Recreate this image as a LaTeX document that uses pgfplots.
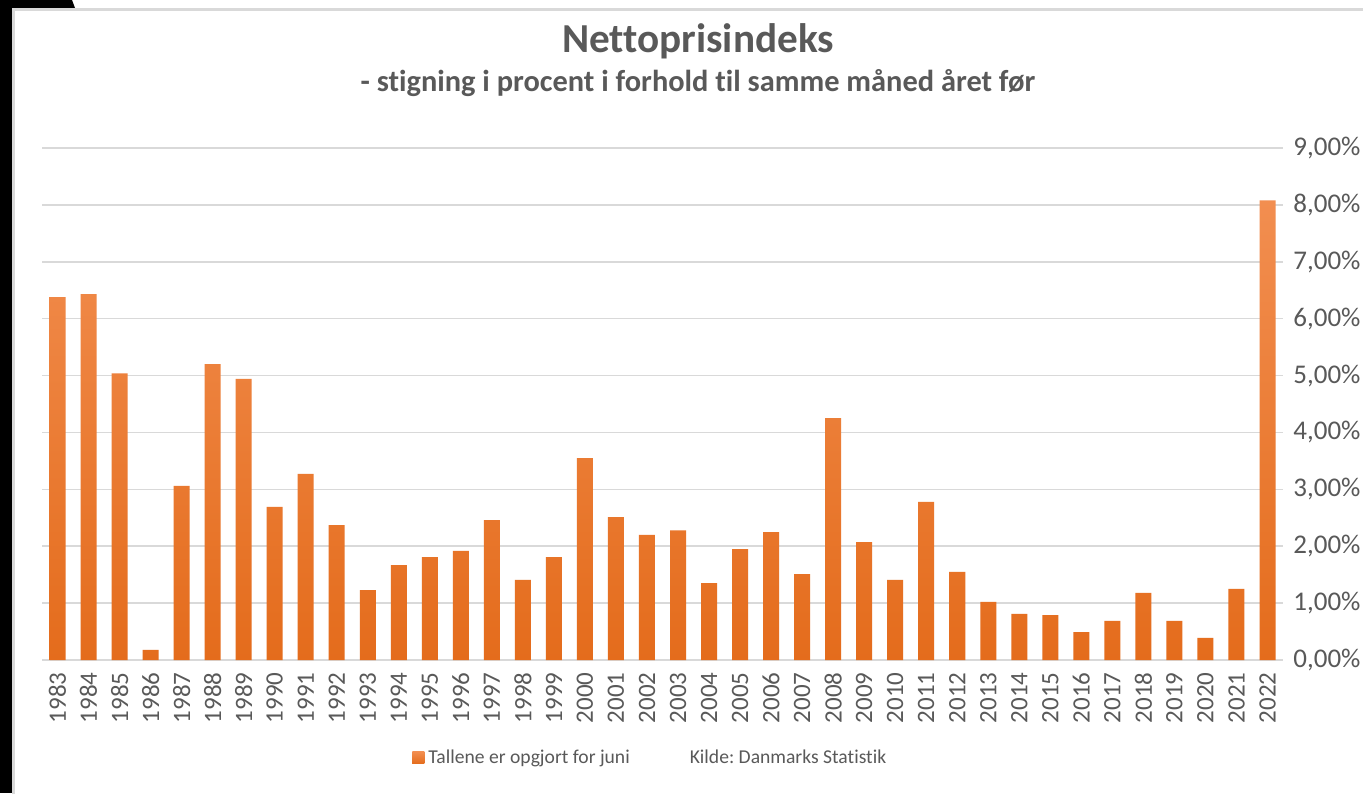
\documentclass[border=0pt]{standalone}
\usepackage{pgfplots}
\pgfplotsset{compat=1.18}
\usepackage{fontspec}
\setmainfont{Carlito}[Ligatures=NoCommon]
\definecolor{txt}{HTML}{595959}
\definecolor{gridc}{HTML}{D9D9D9}
\definecolor{bartop}{HTML}{F28E50}
\definecolor{barbot}{HTML}{E46C1C}
\definecolor{legsq}{HTML}{EE7A2C}
\begin{document}
\frenchspacing
\begin{tikzpicture}
\useasboundingbox (0,0) rectangle (681.5pt,396.5pt);
\fill[white] (0,0) rectangle (681.5pt,396.5pt);
\fill[black] (0,0) rectangle (6pt,396.5pt);
\fill[black] (0,396.5pt) -- (36pt,396.5pt) -- (37.5pt,392.5pt) -- (0,392.5pt) -- cycle;
\draw[gridc, line width=1.5pt] (6.75pt,-5pt) -- (6.75pt,391.75pt) -- (690pt,391.75pt);
\begin{axis}[
  at={(21pt,66.5pt)}, anchor=south west,
  scale only axis, width=620.5pt, height=256pt,
  xmin=1982.5, xmax=2022.5, ymin=0, ymax=9,
  xtick=data, ytick={0,1,...,9},
  axis line style={draw=none},
  major tick length=0pt,
  ymajorgrids, grid style={gridc, line width=0.75pt},
  yticklabel pos=right,
  /pgf/number format/assume math mode=true,
  yticklabel={\pgfmathprintnumber[fixed,fixed zerofill,precision=2,use comma]{\tick}\%},
  y tick label style={anchor=west, inner sep=0pt, xshift=5pt, font=\fontsize{13.5}{15}\selectfont, text=txt},
  x tick label style={rotate=90, anchor=east, inner sep=0pt, xshift=-6pt, font=\fontsize{12.5}{14}\selectfont, text=txt, /pgf/number format/1000 sep={}},
  legend style={at={(axis description cs:0.491,-0.191)}, anchor=center, draw=none, fill=none,
    font=\fontsize{9.8}{11}\selectfont, text=txt, legend columns=2,
    /tikz/every even column/.append style={column sep=26pt}},
]
\addplot[ybar, bar width=8pt, bar shift=0pt, draw=none, top color=bartop, bottom color=barbot,
  legend image code/.code={\fill[legsq] (0pt,-3pt) rectangle (6pt,3pt);}]
  table[row sep=\\] {
x y\\
1983 6.38\\
1984 6.43\\
1985 5.04\\
1986 0.18\\
1987 3.06\\
1988 5.20\\
1989 4.94\\
1990 2.69\\
1991 3.27\\
1992 2.37\\
1993 1.23\\
1994 1.67\\
1995 1.81\\
1996 1.92\\
1997 2.46\\
1998 1.41\\
1999 1.81\\
2000 3.55\\
2001 2.51\\
2002 2.20\\
2003 2.28\\
2004 1.35\\
2005 1.95\\
2006 2.25\\
2007 1.51\\
2008 4.25\\
2009 2.07\\
2010 1.41\\
2011 2.78\\
2012 1.55\\
2013 1.02\\
2014 0.81\\
2015 0.79\\
2016 0.49\\
2017 0.69\\
2018 1.18\\
2019 0.69\\
2020 0.39\\
2021 1.25\\
2022 8.08\\
};
\addlegendentry{Tallene er opgjort for juni}
\addlegendimage{empty legend}
\addlegendentry{Kilde: Danmarks Statistik}
\end{axis}
\node[font=\bfseries\fontsize{20.6}{24}\selectfont, text=txt, anchor=base] at (349pt,370pt) {Nettoprisindeks};
\node[font=\bfseries\fontsize{15.2}{18}\selectfont, text=txt, anchor=base] at (349pt,350.5pt) {- stigning i procent i forhold til samme måned året før};
\end{tikzpicture}
\end{document}
